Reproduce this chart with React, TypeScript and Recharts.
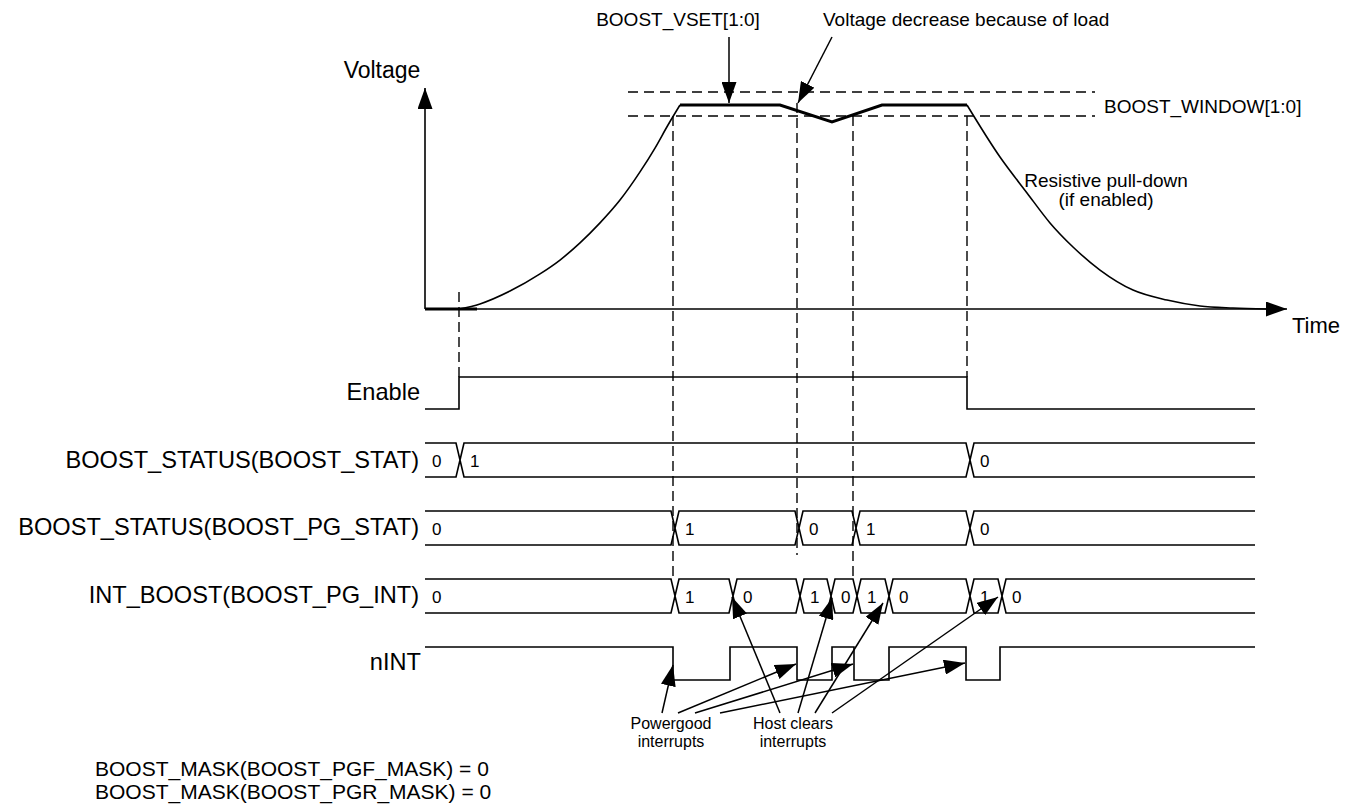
import React from "react";
import { ComposedChart, Line, XAxis, YAxis, Customized } from "recharts";

const W = 1356;
const H = 808;
const FONT = "'Liberation Sans', Arial, Helvetica, sans-serif";

// ---- values: time in diagram units, voltage normalised to BOOST_VSET ----
const T_START = 425;
const T_END = 1255;

const riseT = [459, 480, 510, 540, 560, 580, 600, 620, 640, 655, 668, 680];
const riseV = [0, 0.025, 0.088, 0.172, 0.24, 0.324, 0.422, 0.534, 0.672, 0.789, 0.902, 1];
const regT = [680, 780, 832, 882, 967];
const regV = [1, 1, 0.917, 1, 1];
const fallT = [967, 1000, 1027, 1050, 1073, 1100, 1133, 1167, 1200, 1233, 1267];
const fallV = [1, 0.745, 0.569, 0.422, 0.304, 0.191, 0.093, 0.044, 0.015, 0.005, 0];
const windowT = [628, 1095];
const windowV = [0.946, 1.064];

const enableEdges = [459, 967];
const statEdges = [460, 970];
const statVals = ["0", "1", "0"];
const pgStatEdges = [675, 799, 856, 970];
const pgStatVals = ["0", "1", "0", "1", "0"];
const pgIntEdges = [675, 733, 800, 831, 857, 889, 970, 1002];
const pgIntVals = ["0", "1", "0", "1", "0", "1", "0", "1", "0"];
const nIntEdges = [673, 730, 797, 832, 854, 889, 966, 1000];
const guideT = [459, 673, 797, 853, 967];

// ---- layout (pixel rows of the diagram) ----
const V0 = 309;
const V1 = 105;
const ROWS = {
  enable: { hi: 377, lo: 409 },
  stat: { top: 443, bot: 477 },
  pgStat: { top: 511, bot: 545 },
  pgInt: { top: 579, bot: 613 },
  nInt: { hi: 647, lo: 680 },
};
const guideY = [
  [292, 377],
  [116, 579],
  [103, 555],
  [116, 579],
  [116, 377],
];
const HX = 4;

type Pt = { t: number; y: number | null };

const vY = (v: number) => V0 - v * (V0 - V1);
const toCurve = (ts: number[], vs: number[]): Pt[] => ts.map((t, i) => ({ t, y: vY(vs[i]) }));

function digital(edges: number[], startHigh: boolean, hi: number, lo: number): Pt[] {
  let level = startHigh;
  const pts: Pt[] = [{ t: T_START, y: level ? hi : lo }];
  edges.forEach((e) => {
    pts.push({ t: e, y: level ? hi : lo });
    level = !level;
    pts.push({ t: e, y: level ? hi : lo });
  });
  pts.push({ t: T_END, y: level ? hi : lo });
  return pts;
}

// bus row: hexagon per value, crossing "X" at every edge, open at both ends
function bus(edges: number[], top: number, bot: number): Pt[] {
  const mid = (top + bot) / 2;
  const b = [T_START, ...edges, T_END];
  const out: Pt[] = [];
  for (let i = 0; i < b.length - 1; i++) {
    const l = b[i];
    const r = b[i + 1];
    const lOpen = i === 0;
    const rOpen = i === b.length - 2;
    if (lOpen) out.push({ t: l, y: top });
    else out.push({ t: l, y: mid }, { t: l + HX, y: top });
    if (rOpen) out.push({ t: r, y: top }, { t: r, y: null }, { t: r, y: bot });
    else out.push({ t: r - HX, y: top }, { t: r, y: mid }, { t: r - HX, y: bot });
    if (lOpen) out.push({ t: l, y: bot });
    else out.push({ t: l + HX, y: bot }, { t: l, y: mid });
    out.push({ t: l, y: null });
  }
  return out;
}

const seg = (x1: number, y1: number, x2: number, y2: number): Pt[] => [
  { t: x1, y: y1 },
  { t: x2, y: y2 },
];

const arrows: number[][] = [
  [729, 37, 729, 103],
  [832, 37, 798, 103],
  [662, 713, 673, 665],
  [678, 713, 796, 664],
  [695, 713, 853, 664],
  [720, 713, 965, 663],
  [780, 713, 732, 597],
  [798, 713, 832, 598],
  [815, 713, 883, 603],
  [832, 713, 998, 597],
];

type Series = { key: string; data: Pt[]; w: number; dash?: string; arrow?: boolean; curve?: boolean };

const series: Series[] = [
  { key: "vaxis", data: seg(T_START, V0, T_START, 88), w: 1.6, arrow: true },
  { key: "taxis", data: seg(T_START, V0, 1287, V0), w: 1.6, arrow: true },
  { key: "vbase", data: [{ t: T_START, y: vY(0) }, { t: 477, y: vY(0) }], w: 3 },
  { key: "rise", data: toCurve(riseT, riseV), w: 1.6, curve: true },
  { key: "fall", data: toCurve(fallT, fallV), w: 1.6, curve: true },
  { key: "reg", data: toCurve(regT, regV), w: 3 },
  ...windowV.map((v, i) => ({
    key: "win" + i,
    data: windowT.map((t) => ({ t, y: vY(v) })),
    w: 1.4,
    dash: "10 6",
  })),
  ...guideT.map((t, i) => ({
    key: "guide" + i,
    data: seg(t, guideY[i][0], t, guideY[i][1]),
    w: 1.4,
    dash: "10 5",
  })),
  { key: "enable", data: digital(enableEdges, false, ROWS.enable.hi, ROWS.enable.lo), w: 1.6 },
  { key: "stat", data: bus(statEdges, ROWS.stat.top, ROWS.stat.bot), w: 1.6 },
  { key: "pgstat", data: bus(pgStatEdges, ROWS.pgStat.top, ROWS.pgStat.bot), w: 1.6 },
  { key: "pgint", data: bus(pgIntEdges, ROWS.pgInt.top, ROWS.pgInt.bot), w: 1.6 },
  { key: "nint", data: digital(nIntEdges, true, ROWS.nInt.hi, ROWS.nInt.lo), w: 1.6 },
  ...arrows.map((a, i) => ({ key: "arr" + i, data: seg(a[0], a[1], a[2], a[3]), w: 1.5, arrow: true })),
];

const busLabels = (edges: number[], vals: string[], top: number, bot: number) => {
  const starts = [T_START, ...edges];
  return vals.map((v, i) => ({ x: i === 0 ? starts[i] + 7 : starts[i] + 10, y: (top + bot) / 2 + 6.5, v }));
};

const rowLabels = [
  ...busLabels(statEdges, statVals, ROWS.stat.top, ROWS.stat.bot),
  ...busLabels(pgStatEdges, pgStatVals, ROWS.pgStat.top, ROWS.pgStat.bot),
  ...busLabels(pgIntEdges, pgIntVals, ROWS.pgInt.top, ROWS.pgInt.bot),
];

const TextLayer = () => (
  <g fontFamily={FONT} fill="#000">
    <text x={678} y={26} fontSize={19} textAnchor="middle">BOOST_VSET[1:0]</text>
    <text x={823} y={26} fontSize={19}>Voltage decrease because of load</text>
    <text x={1104} y={113} fontSize={19}>BOOST_WINDOW[1:0]</text>
    <text x={382} y={78} fontSize={23} textAnchor="middle">Voltage</text>
    <text x={1106} y={187} fontSize={19} textAnchor="middle">Resistive pull-down</text>
    <text x={1106} y={206} fontSize={19} textAnchor="middle">(if enabled)</text>
    <text x={1292} y={333} fontSize={22}>Time</text>
    <g fontSize={23.6} textAnchor="end">
      <text x={420} y={400}>Enable</text>
      <text x={419} y={468}>BOOST_STATUS(BOOST_STAT)</text>
      <text x={419} y={535}>BOOST_STATUS(BOOST_PG_STAT)</text>
      <text x={419} y={603}>INT_BOOST(BOOST_PG_INT)</text>
      <text x={421} y={670}>nINT</text>
    </g>
    <g fontSize={17}>
      {rowLabels.map((l, i) => (
        <text key={i} x={l.x} y={l.y}>{l.v}</text>
      ))}
    </g>
    <g fontSize={16} textAnchor="middle">
      <text x={671} y={729}>Powergood</text>
      <text x={671} y={747}>interrupts</text>
      <text x={793} y={729}>Host clears</text>
      <text x={793} y={747}>interrupts</text>
    </g>
    <g fontSize={21}>
      <text x={95} y={776}>BOOST_MASK(BOOST_PGF_MASK) = 0</text>
      <text x={95} y={799}>BOOST_MASK(BOOST_PGR_MASK) = 0</text>
    </g>
  </g>
);

export default function App() {
  return (
    <div style={{ position: "absolute", left: 0, top: 0, width: W, height: H, background: "#fff" }}>
      <svg width={0} height={0} style={{ position: "absolute" }}>
        <defs>
          <marker
            id="ahead"
            markerUnits="userSpaceOnUse"
            markerWidth={21}
            markerHeight={15}
            refX={21}
            refY={7.5}
            orient="auto"
          >
            <path d="M0,0 L21,7.5 L0,15 z" fill="#000" />
          </marker>
        </defs>
      </svg>
      <ComposedChart width={W} height={H} margin={{ top: 0, right: 0, bottom: 0, left: 0 }}>
        <XAxis type="number" dataKey="t" domain={[0, W]} hide allowDataOverflow />
        <YAxis type="number" domain={[0, H]} reversed hide allowDataOverflow />
        {series.map((s) => (
          <Line
            key={s.key}
            data={s.data}
            dataKey="y"
            type={s.curve ? "monotone" : "linear"}
            stroke="#000"
            strokeWidth={s.w}
            strokeDasharray={s.dash}
            markerEnd={s.arrow ? "url(#ahead)" : undefined}
            dot={false}
            activeDot={false}
            connectNulls={false}
            isAnimationActive={false}
          />
        ))}
        <Customized component={TextLayer} />
      </ComposedChart>
    </div>
  );
}
